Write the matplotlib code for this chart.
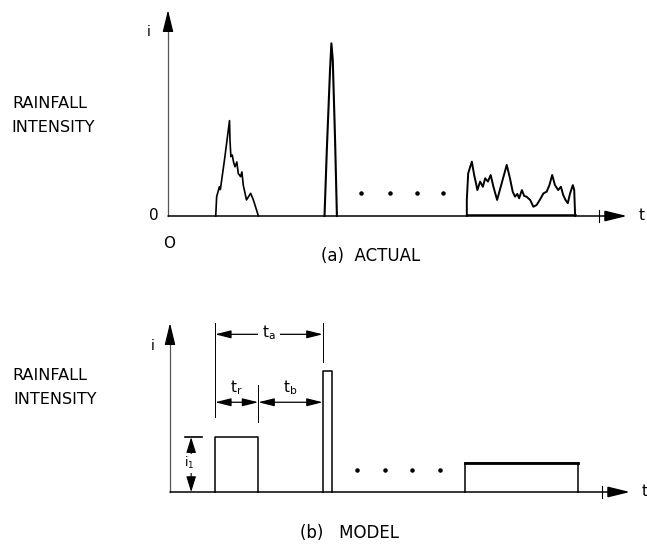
import matplotlib
matplotlib.use("Agg")
import matplotlib.pyplot as plt

W, H = 647, 547

# (a) actual rainfall record, t and i in arbitrary units (axis runs 0..100)
burst1_t = [10.4, 10.6, 11.2, 11.4, 11.7, 12.4, 13.4, 13.5, 13.7, 14.0, 14.3,
            14.6, 15.0, 15.3, 15.8, 16.1, 16.4, 17.1, 18.0, 18.6, 19.7]
burst1_i = [0, 9.4, 14.2, 12.8, 17.5, 28.8, 46.3, 36.9, 28.8, 29.6, 26.0,
            23.9, 26.2, 20.7, 19.1, 21.4, 15.0, 7.8, 11.0, 7.8, 0]

spike_t = [34.1, 34.6, 35.3, 35.6, 35.9, 36.4, 36.8]
spike_i = [0, 32.0, 70.9, 83.8, 75.7, 36.9, 0]

burst3_t = [65.1, 65.1, 65.4, 66.2, 66.7, 67.1, 67.4, 68.0, 68.6, 69.1, 69.7,
            70.3, 70.9, 71.7, 72.7, 73.8, 74.5, 75.1, 75.6, 76.1, 76.5, 77.1,
            77.6, 78.1, 78.9, 79.6, 80.3, 81.0, 81.8, 82.5, 83.1, 83.7, 84.3,
            85.0, 85.6, 86.1, 86.6, 87.1, 87.6, 88.2, 88.5, 88.7]
burst3_i = [0, 7.8, 20.7, 26.4, 19.9, 15.9, 12.6, 16.7, 14.2, 18.3, 16.7,
            19.9, 14.2, 7.8, 15.9, 24.8, 18.3, 11.8, 9.4, 10.7, 8.6, 12.6,
            9.7, 9.4, 7.8, 4.5, 5.3, 7.8, 11.0, 11.8, 15.0, 19.9, 15.0,
            12.6, 14.2, 10.2, 7.8, 6.2, 11.0, 15.0, 12.6, 0]

dots_a_t = [42.0, 48.4, 54.2, 59.9]
dots_a_i = [11.2, 11.2, 11.2, 11.2]

# (b) model: rectangular pulses (start, end, intensity)
pulse_start = [9.8, 33.2, 64.1]
pulse_end = [19.2, 35.3, 88.6]
pulse_height = [32.4, 71.8, 17.3]

dots_b_t = [40.7, 46.8, 52.5, 58.7]
dots_b_i = [13.3, 13.3, 13.3, 13.3]

TICK_T = 94.0


def px_box(x0, y0, x1, y1):
    """pixel box (left, top, right, bottom) -> figure fraction rect"""
    return [x0 / W, 1 - y1 / H, (x1 - x0) / W, (y1 - y0) / H]


def draw_axes_arrows(ax, tick_h):
    arr = dict(arrowstyle="-|>,head_length=0.9,head_width=0.22",
               color="black", lw=1.1, shrinkA=0, shrinkB=0, mutation_scale=15)
    ax.annotate("", xy=(100, 0), xytext=(0, 0), arrowprops=arr,
                annotation_clip=False)
    # y axis: thin grey shaft, black head
    ax.plot([0, 0], [0, 95], color="#555555", lw=0.9, clip_on=False)
    ax.annotate("", xy=(0, 100), xytext=(0, 90),
                arrowprops=dict(arr, lw=0.9), annotation_clip=False)
    ax.plot([TICK_T, TICK_T], [-tick_h, tick_h], color="black", lw=0.8,
            clip_on=False)
    ax.text(102.5, 0, "t", fontsize=11, ha="left", va="center")


def dim_arrow(ax, x0, x1, y):
    ax.annotate("", xy=(x1, y), xytext=(x0, y),
                arrowprops=dict(arrowstyle="<|-|>,head_length=0.8,head_width=0.2",
                                color="black", lw=0.9, shrinkA=0, shrinkB=0,
                                mutation_scale=12),
                annotation_clip=False)


fig = plt.figure(figsize=(W / 100, H / 100), dpi=100)

# ---------------- (a) ACTUAL ----------------
ax_a = fig.add_axes(px_box(168, 10, 627, 216))
ax_a.set_xlim(0, 100)
ax_a.set_ylim(0, 100)
ax_a.axis("off")
draw_axes_arrows(ax_a, 3.0)

ax_a.plot(burst1_t, burst1_i, color="black", lw=1.2, clip_on=False)
ax_a.plot(spike_t, spike_i, color="black", lw=1.5, clip_on=False)
ax_a.plot(burst3_t, burst3_i, color="black", lw=1.4, clip_on=False)
ax_a.plot([burst3_t[0], burst3_t[-1]], [0.5, 0.5], color="black", lw=1.8)
ax_a.scatter(dots_a_t, dots_a_i, s=5, color="black", clip_on=False)

ax_a.text(-4.2, 89.5, "i", fontsize=10, ha="center", va="center")
ax_a.text(-2.0, 0, "0", fontsize=11, ha="right", va="center")
ax_a.text(0.2, -13.5, "O", fontsize=11, ha="center", va="center")

fig.text(12 / W, 1 - 104 / H, "RAINFALL", fontsize=11.5, ha="left",
         va="center")
fig.text(11 / W, 1 - 128 / H, "INTENSITY", fontsize=11.5, ha="left",
         va="center")
fig.text(371 / W, 1 - 256 / H, "(a)  ACTUAL", fontsize=12, ha="center",
         va="center")

# ---------------- (b) MODEL ----------------
ax_b = fig.add_axes(px_box(170, 323, 630, 492))
ax_b.set_xlim(0, 100)
ax_b.set_ylim(0, 100)
ax_b.axis("off")
draw_axes_arrows(ax_b, 3.5)

for s, e, h in zip(pulse_start, pulse_end, pulse_height):
    ax_b.plot([s, s, e, e], [0, h, h, 0], color="black", lw=1.1,
              clip_on=False)
ax_b.plot([pulse_start[2], pulse_end[2]], [pulse_height[2]] * 2,
          color="black", lw=2.0)
ax_b.scatter(dots_b_t, dots_b_i, s=5, color="black", clip_on=False)

# extension lines for the time dimensions
ext = dict(color="black", lw=0.7, clip_on=False)
ax_b.plot([pulse_start[0]] * 2, [44.4, 100], **ext)
ax_b.plot([pulse_end[0]] * 2, [41.6, 63.3], **ext)
ax_b.plot([pulse_start[1]] * 2, [77.0, 100], **ext)

# t_a, t_r, t_b dimension arrows
dim_arrow(ax_b, pulse_start[0], pulse_start[1], 93.3)
dim_arrow(ax_b, pulse_start[0], pulse_end[0], 53.1)
dim_arrow(ax_b, pulse_end[0], pulse_start[1], 53.1)
lab = dict(fontsize=11, ha="center", va="center")
ax_b.text((pulse_start[0] + pulse_start[1]) / 2, 94.0, r"t$_\mathregular{a}$",
          bbox=dict(facecolor="white", edgecolor="none", pad=3), **lab)
ax_b.text((pulse_start[0] + pulse_end[0]) / 2, 62.0, r"t$_\mathregular{r}$",
          **lab)
ax_b.text((pulse_end[0] + pulse_start[1]) / 2, 62.0, r"t$_\mathregular{b}$",
          **lab)

# i1 dimension
ax_b.plot([3.3, 6.9], [pulse_height[0]] * 2, color="black", lw=1.2,
          clip_on=False)
ax_b.annotate("", xy=(4.6, pulse_height[0]), xytext=(4.6, 0),
              arrowprops=dict(arrowstyle="<|-|>,head_length=0.8,head_width=0.25",
                              color="black", lw=0.8, shrinkA=0, shrinkB=0,
                              mutation_scale=12),
              annotation_clip=False)
ax_b.text(4.2, 17.0, r"i$_\mathregular{1}$", fontsize=9, ha="center",
          va="center", bbox=dict(facecolor="white", edgecolor="none", pad=1))

ax_b.text(-3.7, 86.5, "i", fontsize=10, ha="center", va="center")

fig.text(12 / W, 1 - 375 / H, "RAINFALL", fontsize=11.5, ha="left",
         va="center")
fig.text(13 / W, 1 - 399 / H, "INTENSITY", fontsize=11.5, ha="left",
         va="center")
fig.text(350 / W, 1 - 533 / H, "(b)   MODEL", fontsize=12, ha="center",
         va="center")

fig.savefig("out.png", dpi=100)
